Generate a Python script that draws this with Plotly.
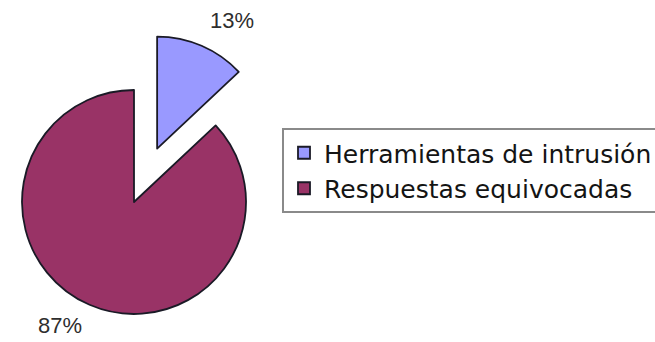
import math
import plotly.graph_objects as go

# Data
labels = ["Herramientas de intrusión", "Respuestas equivocadas"]
values = [13, 87]
colors = ["#9999FF", "#993366"]

W, H = 655, 342
CLEAR = "rgba(0,0,0,0)"
OUTLINE = "#1a1a26"
LW = 1.8

total = sum(values)
shares = [v / total for v in values]

# Pie geometry in pixels: centre and radius of the main pie,
# and how far the first slice is exploded (fraction of radius).
cx, cy, r = 134, 202, 112
pull = 0.52

# Exploded slice moves along its own bisector (slices run clockwise from 12 o'clock)
mid = math.radians(shares[0] * 360 / 2)
bx = cx + pull * r * math.sin(mid)
by = cy - pull * r * math.cos(mid)


def domain(px, py, rad):
    return dict(x=[(px - rad) / W, (px + rad) / W],
                y=[1 - (py + rad) / H, 1 - (py - rad) / H])


common = dict(labels=labels, values=values, sort=False, direction="clockwise",
              rotation=0, textinfo="none")

fig = go.Figure()

# Legend entries (a point-sized pie hidden behind the main one)
fig.add_trace(go.Pie(**common, domain=domain(cx - 40, cy + 30, 0.5),
                     marker=dict(colors=colors, line=dict(color=OUTLINE, width=LW)),
                     hoverinfo="skip", showlegend=True))

# Main pie: the large slice
fig.add_trace(go.Pie(**common, domain=domain(cx, cy, r),
                     marker=dict(colors=[CLEAR, colors[1]],
                                 line=dict(color=OUTLINE, width=[0, LW])),
                     showlegend=False))

# Exploded slice
fig.add_trace(go.Pie(**common, domain=domain(bx, by, r),
                     marker=dict(colors=[colors[0], CLEAR],
                                 line=dict(color=OUTLINE, width=[LW, 0])),
                     showlegend=False))

# Percentage labels
pct = [f"{round(s * 100)}%" for s in shares]
label_pos = [(232, 20), (60, 325)]
for text, (px, py) in zip(pct, label_pos):
    fig.add_annotation(text=text, x=px / W, y=1 - py / H, xref="paper", yref="paper",
                       xanchor="center", yanchor="middle", showarrow=False,
                       font=dict(family="Liberation Sans, Arial", size=22, color="#2e2e2e"))

fig.update_layout(
    width=W, height=H,
    margin=dict(l=0, r=0, t=0, b=0, autoexpand=False),
    paper_bgcolor="white", plot_bgcolor="white",
    legend=dict(x=282 / W, y=1 - 128 / H, xanchor="left", yanchor="top",
                bgcolor="white", bordercolor="#8a8a8a", borderwidth=2,
                font=dict(family="DejaVu Sans", size=25, color="#141414")),
)

fig.write_html("out.html")
